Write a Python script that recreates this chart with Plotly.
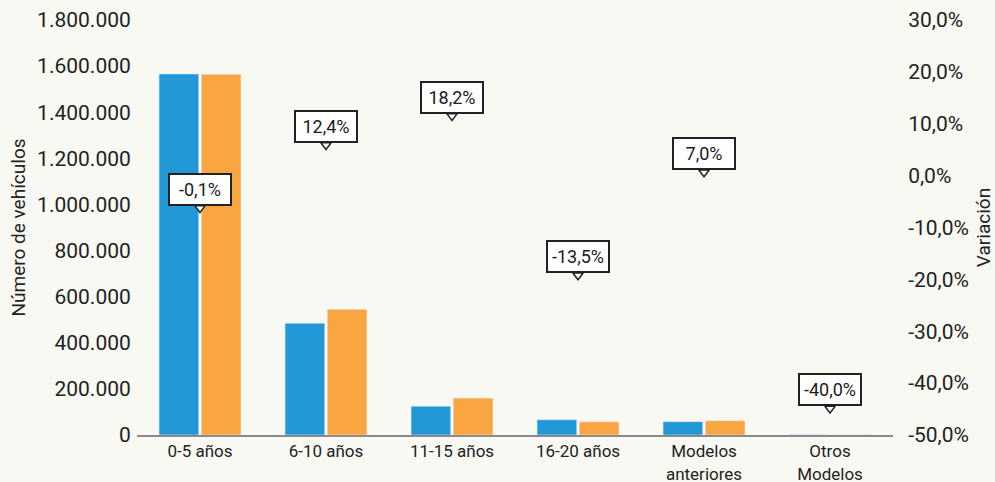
import plotly.graph_objects as go

categories = ["0-5 años", "6-10 años", "11-15 años", "16-20 años", "Modelos<br>anteriores", "Otros<br>Modelos"]
serie_anterior = [1566000, 485000, 125000, 66000, 58000, 1000]
serie_actual = [1564500, 545000, 160000, 57000, 62000, 600]
variacion = [-0.1, 12.4, 18.2, -13.5, 7.0, -40.0]

left_ticks = [0, 200000, 400000, 600000, 800000, 1000000, 1200000, 1400000, 1600000, 1800000]
right_ticks = [-50, -40, -30, -20, -10, 0, 10, 20, 30]

FONT = "Roboto"
BG = "#f9f9f4"


def pct(v):
    return f"{v:.1f}%".replace(".", ",")


fig = go.Figure()
fig.add_trace(go.Bar(x=categories, y=serie_anterior, marker_color="#2298d6", name="Anterior", yaxis="y"))
fig.add_trace(go.Bar(x=categories, y=serie_actual, marker_color="#f9a642", name="Actual", yaxis="y"))
# pointer markers for the callouts
fig.add_trace(go.Scatter(x=categories, y=variacion, yaxis="y3", mode="markers",
                         marker=dict(symbol="triangle-down", size=9, color="white",
                                     line=dict(color="#222222", width=1.5)),
                         hoverinfo="skip"))
# invisible trace to activate y2
fig.add_trace(go.Scatter(x=categories, y=variacion, yaxis="y2", mode="markers",
                         marker=dict(opacity=0), hoverinfo="skip"))

for c, v in zip(categories, variacion):
    fig.add_annotation(x=c, y=v, xref="x", yref="y3", text=pct(v),
                       showarrow=False, yanchor="bottom", yshift=2,
                       bgcolor="white", bordercolor="#222222", borderwidth=2, borderpad=3,
                       width=54, height=23, font=dict(family=FONT, size=18, color="#1a1a1a"))

fig.update_layout(
    width=995, height=482,
    margin=dict(l=137, r=102, t=20, b=47),
    paper_bgcolor=BG, plot_bgcolor=BG,
    separators=",.",
    showlegend=False,
    barmode="group", bargap=0.33, bargroupgap=0.06,
    font=dict(family=FONT, size=20, color="#222222"),
    xaxis=dict(showline=True, linecolor="#8a8a8a", linewidth=2, ticks="",
               tickfont=dict(size=17), showgrid=False, automargin=False),
    yaxis=dict(range=[0, 1800000], tickvals=left_ticks, tickformat=",d",
               ticks="outside", ticklen=1, tickcolor=BG,
               showgrid=False, zeroline=False, showline=False, automargin=False,
               title=dict(text="Número de vehículos", font=dict(size=19), standoff=6),
               tickfont=dict(size=21)),
    yaxis2=dict(range=[-50, 30], tickvals=right_ticks, ticktext=[pct(t) for t in right_ticks],
                overlaying="y", side="right",
                ticks="outside", ticklen=10, tickcolor=BG,
                showgrid=False, zeroline=False, showline=False, automargin=False,
                title=dict(text="Variación", font=dict(size=19), standoff=10),
                tickfont=dict(size=21)),
    yaxis3=dict(range=[-45.28, 37.28], overlaying="y", visible=False),
)

fig.write_html("out.html", config={"displayModeBar": False},
               post_script="document.body.style.margin='0';")
